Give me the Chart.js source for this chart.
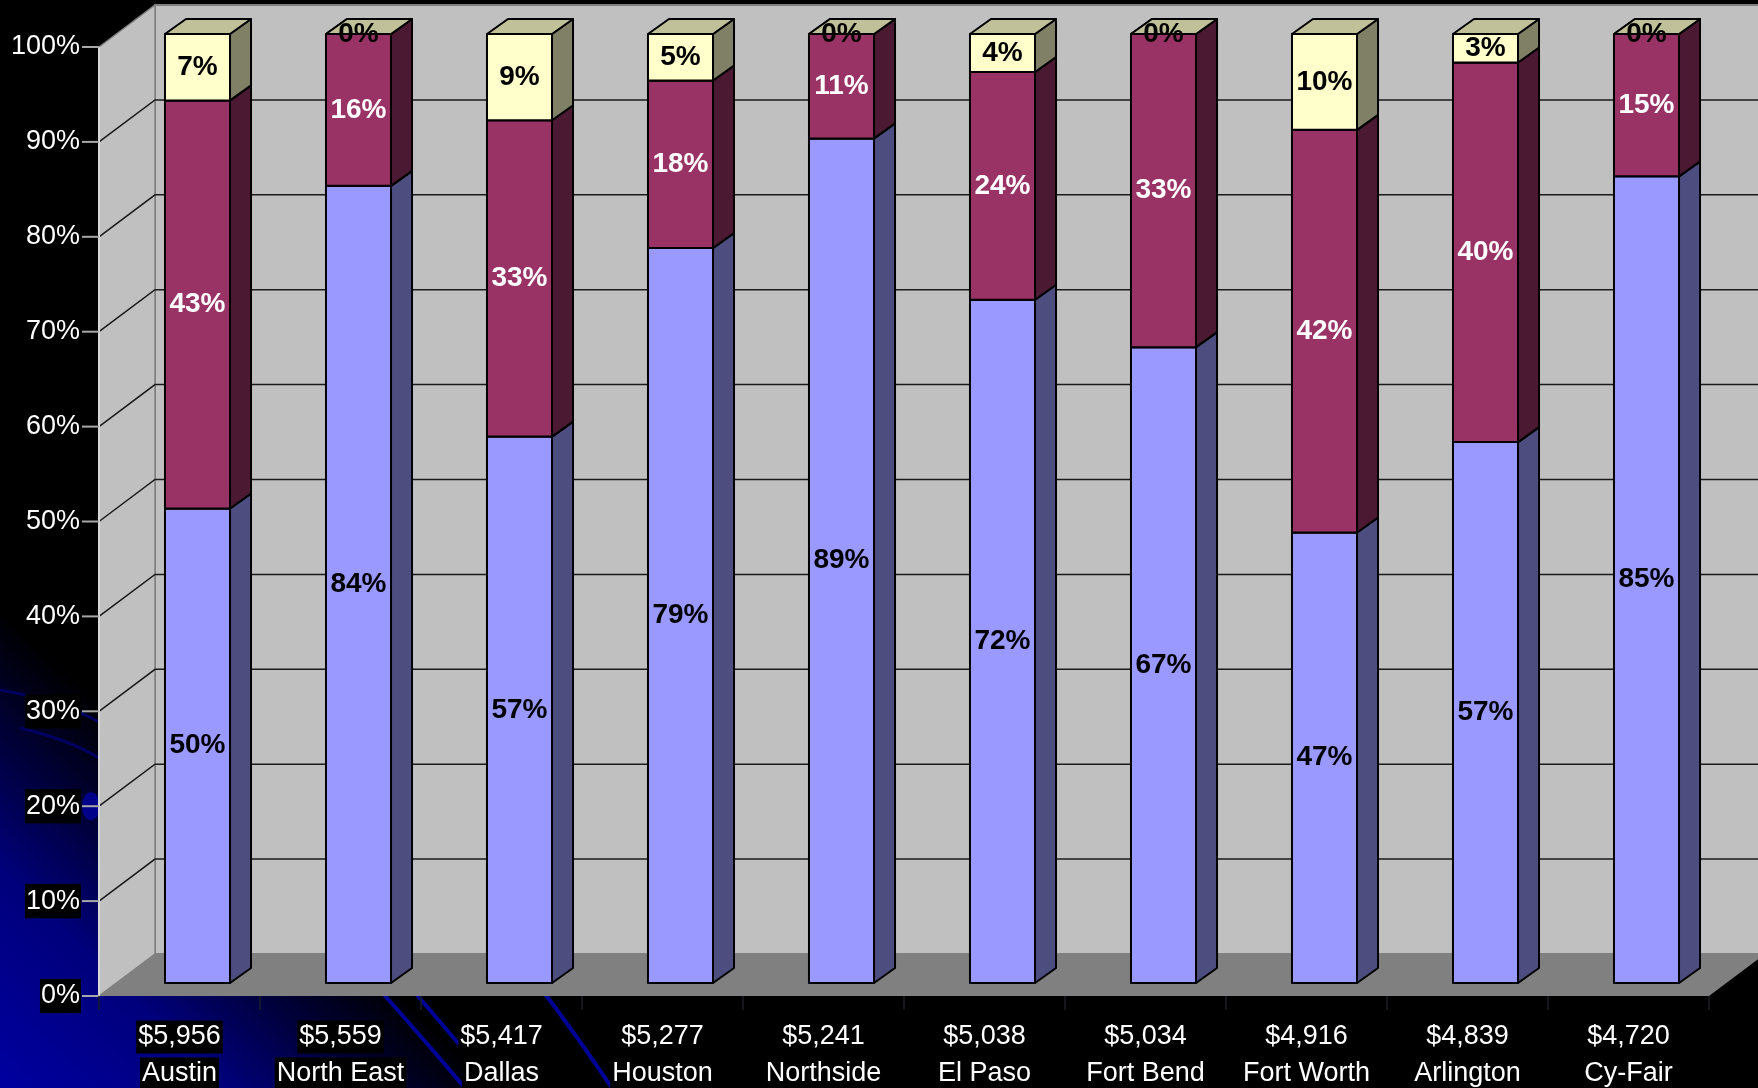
<!DOCTYPE html>
<html>
<head>
<meta charset="utf-8">
<script src="https://cdn.jsdelivr.net/npm/chart.js@4.4.0/dist/chart.umd.min.js"></script>
<style>
  html, body { margin: 0; padding: 0; background: #000; }
  canvas { display: block; }
</style>
</head>
<body>
<canvas id="chart" width="1758" height="1088"></canvas>
<script>
// Chart values
const districts = ['Austin', 'North East', 'Dallas', 'Houston', 'Northside', 'El Paso', 'Fort Bend', 'Fort Worth', 'Arlington', 'Cy-Fair'];
const spending = ['$5,956', '$5,559', '$5,417', '$5,277', '$5,241', '$5,038', '$5,034', '$4,916', '$4,839', '$4,720'];
const bluePct = [50, 84, 57, 79, 89, 72, 67, 47, 57, 85];
const maroonPct = [43, 16, 33, 18, 11, 24, 33, 42, 40, 15];
const yellowPct = [7, 0, 9, 5, 0, 4, 0, 10, 3, 0];
const yTicks = [0, 10, 20, 30, 40, 50, 60, 70, 80, 90, 100];

const FONT = "'Liberation Sans', Arial, sans-serif";
const LABEL_SIZE = 27;
const LABEL_LINE = 1.37;
const LABEL_PAD = 22;

// 3D look: wall depth, bar placement inside the depth, bar thickness
const WALL_DX = 56, WALL_DY = -42;
const BAR_DX = 18, BAR_DY = -13;
const DEPTH_DX = 21, DEPTH_DY = -15;

// 100% stacked: turn the shown values into shares of each column
const totals = districts.map((d, i) => bluePct[i] + maroonPct[i] + yellowPct[i]);
const share = arr => arr.map((v, i) => v / totals[i] * 100);

const seriesStyle = [
    { raw: bluePct, front: '#9999ff', side: '#4d4d80', top: '#7b7bd0', text: '#000000' },
    { raw: maroonPct, front: '#993366', side: '#4c1933', top: '#7a2952', text: '#ffffff' },
    { raw: yellowPct, front: '#ffffcc', side: '#808066', top: '#c0c099', text: '#000000' }
];

// Background, walls, floor and grid
const backdropPlugin = {
    id: 'backdrop3d',
    beforeDraw(chart) {
        const ctx = chart.ctx;
        const area = chart.chartArea;
        const y = chart.scales.y;
        const x = chart.scales.x;
        const H = chart.height;
        ctx.save();

        // page background with the blue corner glow
        ctx.fillStyle = '#000';
        ctx.fillRect(0, 0, chart.width, H);
        const g = ctx.createLinearGradient(0, H, 240, H - 250);
        g.addColorStop(0, '#0000a0');
        g.addColorStop(0.45, '#00007c');
        g.addColorStop(0.8, '#00002a');
        g.addColorStop(1, '#000000');
        ctx.fillStyle = g;
        ctx.fillRect(0, 0, chart.width, H);

        // template swooshes
        ctx.strokeStyle = '#000099';
        ctx.lineWidth = 4;
        ctx.beginPath();
        ctx.moveTo(325, 930); ctx.quadraticCurveTo(395, 1005, 465, 1088);
        ctx.moveTo(370, 940); ctx.quadraticCurveTo(430, 1010, 464, 1050);
        ctx.moveTo(495, 930); ctx.quadraticCurveTo(560, 1010, 612, 1088);
        ctx.stroke();
        ctx.lineWidth = 3;
        ctx.strokeStyle = '#000060';
        ctx.beginPath();
        ctx.moveTo(0, 690); ctx.quadraticCurveTo(60, 700, 99, 722);
        ctx.moveTo(20, 728); ctx.quadraticCurveTo(70, 740, 99, 758);
        ctx.stroke();
        ctx.fillStyle = '#00008a';
        ctx.beginPath();
        ctx.ellipse(91, y.getPixelForValue(20), 9, 14, 0, 0, Math.PI * 2);
        ctx.fill();

        const L = area.left, R = area.right, T = area.top, B = area.bottom;

        // black boxes behind each line of the category labels
        ctx.font = LABEL_SIZE + 'px ' + FONT;
        ctx.fillStyle = '#000';
        const lh = LABEL_SIZE * LABEL_LINE;
        districts.forEach((d, i) => {
            const cx = x.getPixelForTick(i);
            [spending[i], d].forEach((line, k) => {
                const cy = B + LABEL_PAD + lh / 2 + k * lh;
                const w = ctx.measureText(line).width + 4;
                ctx.fillRect(cx - w / 2, cy - 16, w, 33);
            });
        });

        // back wall
        ctx.fillStyle = '#c0c0c0';
        ctx.fillRect(L + WALL_DX, T + WALL_DY, R - L + 60, B - T);
        ctx.strokeStyle = '#808080';
        ctx.lineWidth = 2;
        ctx.strokeRect(L + WALL_DX, T + WALL_DY, R - L + 60, B - T);

        // side wall
        ctx.beginPath();
        ctx.moveTo(L, T);
        ctx.lineTo(L + WALL_DX, T + WALL_DY);
        ctx.lineTo(L + WALL_DX, B + WALL_DY);
        ctx.lineTo(L, B);
        ctx.closePath();
        ctx.fillStyle = '#c0c0c0';
        ctx.fill();
        ctx.strokeStyle = '#808080';
        ctx.lineWidth = 1.5;
        ctx.stroke();

        // floor
        ctx.beginPath();
        ctx.moveTo(L, B);
        ctx.lineTo(R, B);
        ctx.lineTo(R + WALL_DX, B + WALL_DY);
        ctx.lineTo(L + WALL_DX, B + WALL_DY);
        ctx.closePath();
        ctx.fillStyle = '#808080';
        ctx.fill();

        // gridlines across side and back walls
        ctx.strokeStyle = '#1a1a1a';
        ctx.lineWidth = 1.5;
        yTicks.forEach(v => {
            if (v === 0 || v === 100) return;
            const py = y.getPixelForValue(v);
            ctx.beginPath();
            ctx.moveTo(L, py);
            ctx.lineTo(L + WALL_DX, py + WALL_DY);
            ctx.lineTo(R + WALL_DX + 60, py + WALL_DY);
            ctx.stroke();
        });

        // axis line and tick marks
        ctx.strokeStyle = '#d8d8d8';
        ctx.lineWidth = 2;
        ctx.beginPath();
        ctx.moveTo(L, T);
        ctx.lineTo(L, B);
        ctx.stroke();
        ctx.strokeStyle = '#a8a8a8';
        yTicks.forEach(v => {
            const py = y.getPixelForValue(v);
            ctx.beginPath();
            ctx.moveTo(L - 17, py);
            ctx.lineTo(L, py);
            ctx.stroke();
        });

        // category boundary ticks under the floor
        ctx.strokeStyle = '#1c1c24';
        ctx.lineWidth = 1.5;
        const step = x.getPixelForTick(1) - x.getPixelForTick(0);
        for (let i = 0; i <= districts.length; i++) {
            const px = i < districts.length ? x.getPixelForTick(i) - step / 2 : R;
            ctx.beginPath();
            ctx.moveTo(px, B);
            ctx.lineTo(px, B + 14);
            ctx.stroke();
        }
        ctx.restore();
    }
};

// Front, side and top faces of each stacked segment, then the value labels
const bars3dPlugin = {
    id: 'bars3d',
    afterDatasetsDraw(chart) {
        const ctx = chart.ctx;
        ctx.save();
        ctx.translate(BAR_DX, BAR_DY);
        ctx.lineWidth = 2;
        ctx.lineJoin = 'round';
        ctx.strokeStyle = '#000';

        const boxes = [];
        seriesStyle.forEach((s, d) => {
            const meta = chart.getDatasetMeta(d);
            meta.data.forEach((el, j) => {
                const p = el.getProps(['x', 'y', 'base', 'width'], true);
                const l = p.x - p.width / 2, r = p.x + p.width / 2;
                const t = Math.min(p.y, p.base), b = Math.max(p.y, p.base);

                // front
                ctx.fillStyle = s.front;
                ctx.fillRect(l, t, r - l, b - t);
                ctx.strokeRect(l, t, r - l, b - t);

                // side
                ctx.beginPath();
                ctx.moveTo(r, b);
                ctx.lineTo(r + DEPTH_DX, b + DEPTH_DY);
                ctx.lineTo(r + DEPTH_DX, t + DEPTH_DY);
                ctx.lineTo(r, t);
                ctx.closePath();
                ctx.fillStyle = s.side;
                ctx.fill();
                ctx.stroke();

                // top
                ctx.beginPath();
                ctx.moveTo(l, t);
                ctx.lineTo(r, t);
                ctx.lineTo(r + DEPTH_DX, t + DEPTH_DY);
                ctx.lineTo(l + DEPTH_DX, t + DEPTH_DY);
                ctx.closePath();
                ctx.fillStyle = s.top;
                ctx.fill();
                ctx.stroke();

                boxes.push({ x: p.x, y: (t + b) / 2, text: s.raw[j] + '%', color: s.text });
            });
        });

        ctx.font = 'bold 28px ' + FONT;
        ctx.textAlign = 'center';
        ctx.textBaseline = 'middle';
        boxes.forEach(bx => {
            ctx.fillStyle = bx.color;
            ctx.fillText(bx.text, bx.x, bx.y);
        });
        ctx.restore();
    }
};

const ctx = document.getElementById('chart').getContext('2d');
new Chart(ctx, {
    type: 'bar',
    data: {
        labels: districts.map((d, i) => [spending[i], d]),
        datasets: seriesStyle.map((s, d) => ({
            data: share(s.raw),
            backgroundColor: 'rgba(0,0,0,0)',
            borderWidth: 0,
            barPercentage: 0.404,
            categoryPercentage: 1
        }))
    },
    options: {
        responsive: false,
        animation: false,
        devicePixelRatio: 1,
        layout: { padding: { left: 0, right: 49, top: 47, bottom: 0 } },
        plugins: {
            legend: { display: false },
            tooltip: { enabled: false }
        },
        scales: {
            x: {
                stacked: true,
                grid: { display: false, drawTicks: false },
                border: { display: false },
                ticks: {
                    color: '#ffffff',
                    font: { family: FONT, size: LABEL_SIZE, lineHeight: LABEL_LINE },
                    padding: LABEL_PAD,
                    maxRotation: 0,
                    autoSkip: false
                },
                afterFit: scale => { scale.height = 92; }
            },
            y: {
                stacked: true,
                min: 0,
                max: 100,
                grid: { display: false, drawTicks: false },
                border: { display: false },
                ticks: {
                    stepSize: 10,
                    color: '#ffffff',
                    font: { family: FONT, size: LABEL_SIZE },
                    padding: 19,
                    callback: v => v + '%',
                    showLabelBackdrop: true,
                    backdropColor: '#000000',
                    backdropPadding: { top: 1, bottom: 1, left: 1, right: 1 }
                },
                afterFit: scale => { scale.width = 99; }
            }
        }
    },
    plugins: [backdropPlugin, bars3dPlugin]
});
</script>
</body>
</html>
